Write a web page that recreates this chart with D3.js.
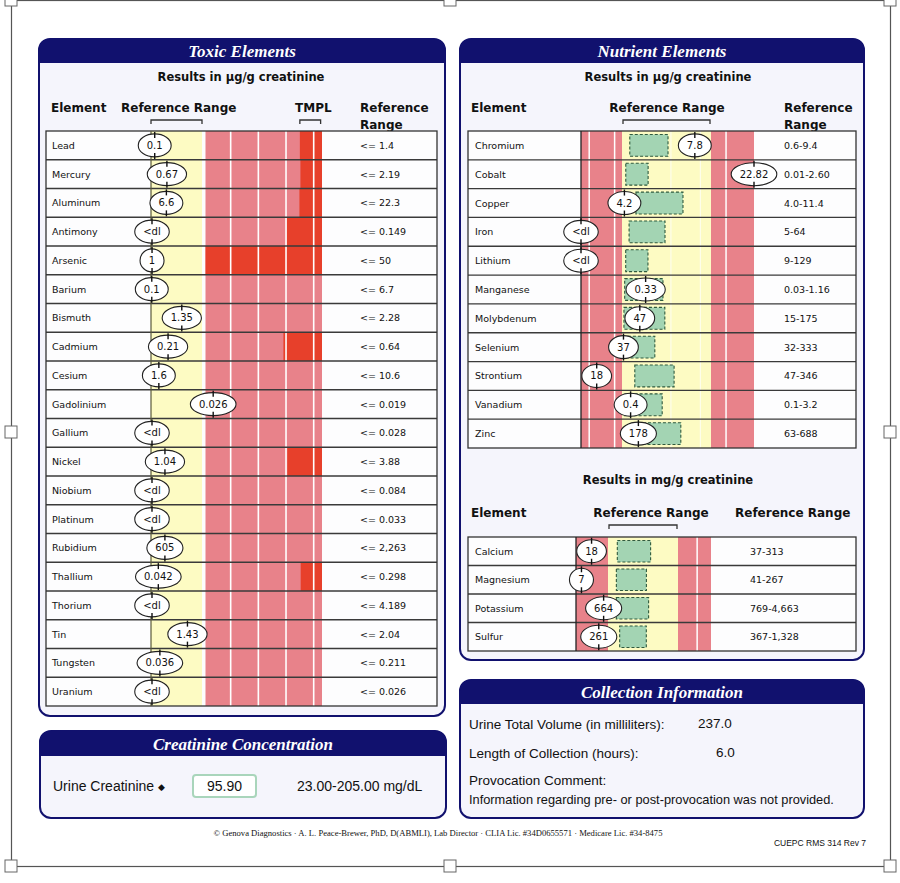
<!DOCTYPE html>
<html>
<head>
<meta charset="utf-8">
<script src="https://cdn.jsdelivr.net/npm/d3@7"></script>
<style>
  body { margin: 0; background: #fff; }
  text { font-family: 'DejaVu Sans', Verdana, sans-serif; fill: #111; }
</style>
</head>
<body>
<div id="app"></div>
<script>
// ---- toxic elements (µg/g creatinine) ----
const toxicElements = ['Lead', 'Mercury', 'Aluminum', 'Antimony', 'Arsenic', 'Barium', 'Bismuth', 'Cadmium', 'Cesium', 'Gadolinium',
  'Gallium', 'Nickel', 'Niobium', 'Platinum', 'Rubidium', 'Thallium', 'Thorium', 'Tin', 'Tungsten', 'Uranium']
const toxicResults = [0.1, 0.67, 6.6, null, 1, 0.1, 1.35, 0.21, 1.6, 0.026,
  null, 1.04, null, null, 605, 0.042, null, 1.43, 0.036, null]
const toxicLimits = [1.4, 2.19, 22.3, 0.149, 50, 6.7, 2.28, 0.64, 10.6, 0.019,
  0.028, 3.88, 0.084, 0.033, 2263, 0.298, 4.189, 2.04, 0.211, 0.026]
// TMPL (where the red starts), null = none shown
const toxicTmpl = [6.3, 9.9, 100, 0.6, 50, null, null, 2.5, null, null,
  null, 15.7, null, null, null, 1.35, null, null, null, null]

// ---- nutrient elements (µg/g creatinine) ----
const nutrientElements = ['Chromium', 'Cobalt', 'Copper', 'Iron', 'Lithium', 'Manganese', 'Molybdenum', 'Selenium', 'Strontium', 'Vanadium', 'Zinc']
const nutrientResults = [7.8, 22.82, 4.2, null, null, 0.33, 47, 37, 18, 0.4, 178]
const nutrientLow = [0.6, 0.01, 4.0, 5, 9, 0.03, 15, 32, 47, 0.1, 63]
const nutrientHigh = [9.4, 2.60, 11.4, 64, 129, 1.16, 175, 333, 346, 3.2, 688]
const nutrientRangeLabels = ['0.6-9.4', '0.01-2.60', '4.0-11.4', '5-64', '9-129', '0.03-1.16', '15-175', '32-333', '47-346', '0.1-3.2', '63-688']
// green (population) box, same units
const nutrientBoxLow = [1.37, 0.12, 5.16, 9.7, 14, 0.064, 18.5, 52, 90, 0.19, 175]
const nutrientBoxHigh = [5.15, 0.77, 9.07, 33.5, 44, 0.55, 92, 143, 222, 1.5, 476]

// ---- nutrient elements (mg/g creatinine) ----
const mineralElements = ['Calcium', 'Magnesium', 'Potassium', 'Sulfur']
const mineralResults = [18, 7, 664, 261]
const mineralLow = [37, 41, 769, 367]
const mineralHigh = [313, 267, 4663, 1328]
const mineralRangeLabels = ['37-313', '41-267', '769-4,663', '367-1,328']
const mineralBoxLow = [73.7, 68, 1232, 527]
const mineralBoxHigh = [205, 165, 3028, 893]

const creatinine = { label: 'Urine Creatinine', value: '95.90', range: '23.00-205.00 mg/dL' }
const collection = [['Urine Total Volume (in milliliters):', '237.0'], ['Length of Collection (hours):', '6.0']]

const navy = '#11116e'
const pink = '#e8828a'
const red = '#e7402b'
const yellow = '#fdfbc3'
const green = '#a3d4b3'

const svg = d3.select('#app')
  .append('svg')
  .attr('width', 900)
  .attr('height', 883)

// selection frame around the page
const frame = svg.append('g')
frame.append('rect').attr('x', 11.5).attr('y', 0.5).attr('width', 879).attr('height', 866)
  .attr('fill', 'none').attr('stroke', '#555').attr('stroke-width', 1.2)
;[[11, 0], [450, 0], [890, 0], [11, 432], [890, 432], [11, 866], [450, 866], [890, 866]].forEach(p => {
  frame.append('rect').attr('x', p[0] - 6).attr('y', p[1] - 6).attr('width', 12).attr('height', 12)
    .attr('fill', '#fff').attr('stroke', '#666').attr('stroke-width', 1)
})

function panel(x, y, w, h, title, headH) {
  const g = svg.append('g').attr('transform', 'translate(' + x + ',' + y + ')')
  const r = 11
  g.append('rect').attr('width', w).attr('height', h).attr('rx', r)
    .attr('fill', '#f5f5fc').attr('stroke', navy).attr('stroke-width', 2)
  g.append('path')
    .attr('d', 'M0,' + headH + ' V' + r + ' Q0,0 ' + r + ',0 H' + (w - r) + ' Q' + w + ',0 ' + w + ',' + r + ' V' + headH + ' Z')
    .attr('fill', navy)
  g.append('text')
    .attr('x', w / 2).attr('y', headH - 6)
    .attr('text-anchor', 'middle')
    .style('fill', '#fff')
    .style('font-family', "'Liberation Serif', 'DejaVu Serif', serif")
    .style('font-style', 'italic').style('font-weight', 'bold').style('font-size', '17px')
    .text(title)
  return g
}

function label(g, x, y, txt, opts) {
  opts = opts || {}
  return g.append('text').attr('x', x).attr('y', y)
    .attr('text-anchor', opts.anchor || 'start')
    .style('font-size', (opts.size || 10) + 'px')
    .style('font-weight', opts.bold ? 'bold' : 'normal')
    .style('font-family', opts.family || null)
    .text(txt)
}

function bracket(g, x1, x2, y) {
  g.append('path').attr('d', 'M' + x1 + ',' + (y + 4) + ' V' + y + ' H' + x2 + ' V' + (y + 4))
    .attr('fill', 'none').attr('stroke', '#333').attr('stroke-width', 1.3)
}

function marker(g, cx, cy, txt, ry) {
  const m = g.append('g')
  const e = m.append('ellipse').attr('cx', cx).attr('cy', cy).attr('ry', ry)
    .attr('fill', '#fff').attr('stroke', '#222').attr('stroke-width', 1.1)
  const t = m.append('text').attr('x', cx).attr('y', cy + 3.5).attr('text-anchor', 'middle')
    .style('font-size', '10px').text(txt)
  const tw = t.node().getComputedTextLength()
  e.attr('rx', Math.max(12, tw / 2 + 8.5))
  m.append('line').attr('x1', cx).attr('x2', cx).attr('y1', cy - ry - 2).attr('y2', cy - ry + 4)
    .attr('stroke', '#111').attr('stroke-width', 1.4)
  m.append('line').attr('x1', cx).attr('x2', cx).attr('y1', cy + ry - 4).attr('y2', cy + ry + 2)
    .attr('stroke', '#111').attr('stroke-width', 1.4)
}

function table(g, x, w, y, rows) {
  g.append('rect').attr('x', x).attr('y', y.range()[0]).attr('width', w).attr('height', y.range()[1] - y.range()[0])
    .attr('fill', '#fdfdfe')
}

function tableLines(g, x, w, y, rows) {
  g.selectAll(null).data(rows.slice(1)).join('line')
    .attr('x1', x).attr('x2', x + w)
    .attr('y1', d => y(d)).attr('y2', d => y(d))
    .attr('stroke', '#3a3a3a').attr('stroke-width', 1.3)
  g.append('rect').attr('x', x).attr('y', y.range()[0]).attr('width', w).attr('height', y.range()[1] - y.range()[0])
    .attr('fill', 'none').attr('stroke', '#333').attr('stroke-width', 1.3)
}

// ================= Toxic Elements =================
const toxP = panel(39, 39, 406, 677, 'Toxic Elements', 24)
const tox = svg.append('g')
label(tox, 241, 81, 'Results in µg/g creatinine', { anchor: 'middle', size: 11.5, bold: true })
label(tox, 51, 112, 'Element', { size: 12, bold: true })
label(tox, 121, 112, 'Reference Range', { size: 12, bold: true })
label(tox, 295, 112, 'TMPL', { size: 12, bold: true })
label(tox, 360, 112, 'Reference', { size: 12, bold: true })
label(tox, 360, 129, 'Range', { size: 12, bold: true })

const yTox = d3.scaleBand().domain(toxicElements).range([131, 706])
const xTox = d3.scaleLinear().domain([0, 1, 5.3]).range([151, 203, 322]).clamp(true)
bracket(tox, xTox(0), xTox(1) - 1, 120)
bracket(tox, xTox(4.5), xTox(5.25), 120)

table(tox, 46, 391, yTox, toxicElements)
const tTop = yTox.range()[0], tBot = yTox.range()[1]
tox.append('rect').attr('x', xTox(0)).attr('y', tTop).attr('width', xTox(1) - 1 - xTox(0)).attr('height', tBot - tTop).attr('fill', yellow)
tox.append('rect').attr('x', xTox(1) + 2.5).attr('y', tTop).attr('width', xTox(5.3) - xTox(1) - 2.5).attr('height', tBot - tTop).attr('fill', pink)

// red TMPL area per row
tox.selectAll(null).data(toxicElements.filter((d, i) => toxicTmpl[i] !== null)).join('rect')
  .attr('x', d => { const i = toxicElements.indexOf(d); return Math.max(xTox(toxicTmpl[i] / toxicLimits[i]), xTox(1) + 2.5) })
  .attr('y', d => yTox(d))
  .attr('width', d => { const i = toxicElements.indexOf(d); return xTox(5.3) - Math.max(xTox(toxicTmpl[i] / toxicLimits[i]), xTox(1) + 2.5) })
  .attr('height', yTox.bandwidth())
  .attr('fill', red)

tox.selectAll(null).data([2, 3, 4, 5]).join('line')
  .attr('x1', d => xTox(d)).attr('x2', d => xTox(d)).attr('y1', tTop).attr('y2', tBot)
  .attr('stroke', '#fff').attr('stroke-width', 1.6)
tableLines(tox, 46, 391, yTox, toxicElements)
tox.append('line').attr('x1', xTox(0)).attr('x2', xTox(0)).attr('y1', tTop).attr('y2', tBot)
  .attr('stroke', '#5a5a3a').attr('stroke-width', 1.2)

toxicElements.forEach((el, i) => {
  const cy = yTox(el) + yTox.bandwidth() / 2
  label(tox, 52, cy + 3.5, el, { size: 9.5 })
  label(tox, 360, cy + 3.5, '<= ' + d3.format(',')(toxicLimits[i]), { size: 9.5 })
  const v = toxicResults[i]
  marker(tox, v === null ? xTox(0) + 1 : xTox(v / toxicLimits[i]), cy, v === null ? '<dl' : String(v), 11.5)
})

// ================= Nutrient Elements =================
panel(460, 39, 404, 621, 'Nutrient Elements', 24)
const nut = svg.append('g')

// position of a value relative to its range: 0..1 low band, 1..2 in range, 2..3 high band
function rangePos(v, lo, hi) {
  if (v < lo) return v / lo
  if (v <= hi) return 1 + (v - lo) / (hi - lo)
  return 2 + (v - hi) / (hi - lo)
}

function nutrientTable(g, opts) {
  const y = d3.scaleBand().domain(opts.elements).range(opts.rows)
  const x = d3.scaleLinear().domain([0, 1, 2, 3]).range(opts.band).clamp(true)
  const top = opts.rows[0], bot = opts.rows[1]
  table(g, 468, 388, y, opts.elements)
  g.append('rect').attr('x', x(0)).attr('y', top).attr('width', x(1) - x(0)).attr('height', bot - top).attr('fill', pink)
  g.append('rect').attr('x', x(1)).attr('y', top).attr('width', x(2) - x(1)).attr('height', bot - top).attr('fill', yellow)
  g.append('rect').attr('x', x(2)).attr('y', top).attr('width', x(3) - x(2)).attr('height', bot - top).attr('fill', pink)
  g.selectAll(null).data(opts.gridLines).join('line')
    .attr('x1', d => x(d)).attr('x2', d => x(d)).attr('y1', top).attr('y2', bot)
    .attr('stroke', '#fff').attr('stroke-width', 1.5)
  g.selectAll(null).data(opts.softLines).join('line')
    .attr('x1', d => x(d)).attr('x2', d => x(d)).attr('y1', top).attr('y2', bot)
    .attr('stroke', '#fff').attr('stroke-width', 1).attr('opacity', 0.8)

  // green boxes
  g.selectAll(null).data(opts.elements).join('rect')
    .attr('x', (d, i) => x(rangePos(opts.boxLow[i], opts.low[i], opts.high[i])))
    .attr('width', (d, i) => x(rangePos(opts.boxHigh[i], opts.low[i], opts.high[i])) - x(rangePos(opts.boxLow[i], opts.low[i], opts.high[i])))
    .attr('y', d => y(d) + 3.5)
    .attr('height', y.bandwidth() - 7)
    .attr('fill', green).attr('stroke', '#2f5a3e').attr('stroke-width', 1.1).attr('stroke-dasharray', '3,2')

  tableLines(g, 468, 388, y, opts.elements)
  g.append('line').attr('x1', x(0)).attr('x2', x(0)).attr('y1', top).attr('y2', bot)
    .attr('stroke', '#222').attr('stroke-width', 1.3)

  opts.elements.forEach((el, i) => {
    const cy = y(el) + y.bandwidth() / 2
    label(g, 475, cy + 3.5, el, { size: 9.5 })
    label(g, opts.rangeX, cy + 3.5, opts.rangeLabels[i], { size: 9.5 })
    const v = opts.results[i]
    marker(g, v === null ? x(0) : x(rangePos(v, opts.low[i], opts.high[i])), cy, v === null ? '<dl' : String(v), 11.5)
  })
  bracket(g, x(1) + 1, x(2) - 1, opts.bracketY)
}

label(nut, 668, 81, 'Results in µg/g creatinine', { anchor: 'middle', size: 11.5, bold: true })
label(nut, 471, 112, 'Element', { size: 12, bold: true })
label(nut, 667, 112, 'Reference Range', { anchor: 'middle', size: 12, bold: true })
label(nut, 784, 112, 'Reference', { size: 12, bold: true })
label(nut, 784, 129, 'Range', { size: 12, bold: true })
nutrientTable(nut, {
  elements: nutrientElements, results: nutrientResults, low: nutrientLow, high: nutrientHigh,
  boxLow: nutrientBoxLow, boxHigh: nutrientBoxHigh, rangeLabels: nutrientRangeLabels,
  rows: [131, 448], band: [581, 622, 711, 754], gridLines: [0.2, 0.82, 2.35], softLines: [1.55, 1.88],
  rangeX: 784, bracketY: 120
})

label(nut, 668, 484, 'Results in mg/g creatinine', { anchor: 'middle', size: 11.5, bold: true })
label(nut, 471, 517, 'Element', { size: 12, bold: true })
label(nut, 651, 517, 'Reference Range', { anchor: 'middle', size: 12, bold: true })
label(nut, 735, 517, 'Reference Range', { size: 12, bold: true })
nutrientTable(nut, {
  elements: mineralElements, results: mineralResults, low: mineralLow, high: mineralHigh,
  boxLow: mineralBoxLow, boxHigh: mineralBoxHigh, rangeLabels: mineralRangeLabels,
  rows: [537, 651], band: [576, 608, 678, 711], gridLines: [2.58], softLines: [],
  rangeX: 750, bracketY: 525
})

// ================= Creatinine Concentration =================
const cr = panel(40, 731, 406, 87, 'Creatinine Concentration', 25)
const sans = "'Liberation Sans', Arial, sans-serif"
const crLabel = label(cr, 13, 60, creatinine.label + ' ', { size: 14, family: sans })
crLabel.append('tspan').attr('dy', -1).style('font-size', '9px').text('\u25C6')
cr.append('rect').attr('x', 153).attr('y', 44).attr('width', 63).attr('height', 22).attr('rx', 3)
  .attr('fill', '#fff').attr('stroke', '#a9d5bb').attr('stroke-width', 2)
label(cr, 184.5, 60, creatinine.value, { anchor: 'middle', size: 14, family: sans })
label(cr, 257, 60, creatinine.range, { size: 14, family: sans })

// ================= Collection Information =================
const co = panel(460, 680, 404, 138, 'Collection Information', 24)
label(co, 9, 49, collection[0][0], { size: 13.5, family: sans })
label(co, 238, 48, collection[0][1], { size: 13.5, family: sans })
label(co, 9, 78, collection[1][0], { size: 13.5, family: sans })
label(co, 256, 77, collection[1][1], { size: 13.5, family: sans })
label(co, 9, 105, 'Provocation Comment:', { size: 13.5, family: sans })
label(co, 9, 124, 'Information regarding pre- or post-provocation was not provided.', { size: 12.8, family: sans })

// footer
label(svg, 438, 836, '\u00A9 Genova Diagnostics \u00B7 A. L. Peace-Brewer, PhD, D(ABMLI), Lab Director \u00B7 CLIA Lic. #34D0655571 \u00B7 Medicare Lic. #34-8475',
  { anchor: 'middle', size: 8.6, family: "'Liberation Serif', serif" })
label(svg, 866, 846, 'CUEPC RMS 314 Rev 7', { anchor: 'end', size: 8.5, family: sans })
</script>
</body>
</html>
